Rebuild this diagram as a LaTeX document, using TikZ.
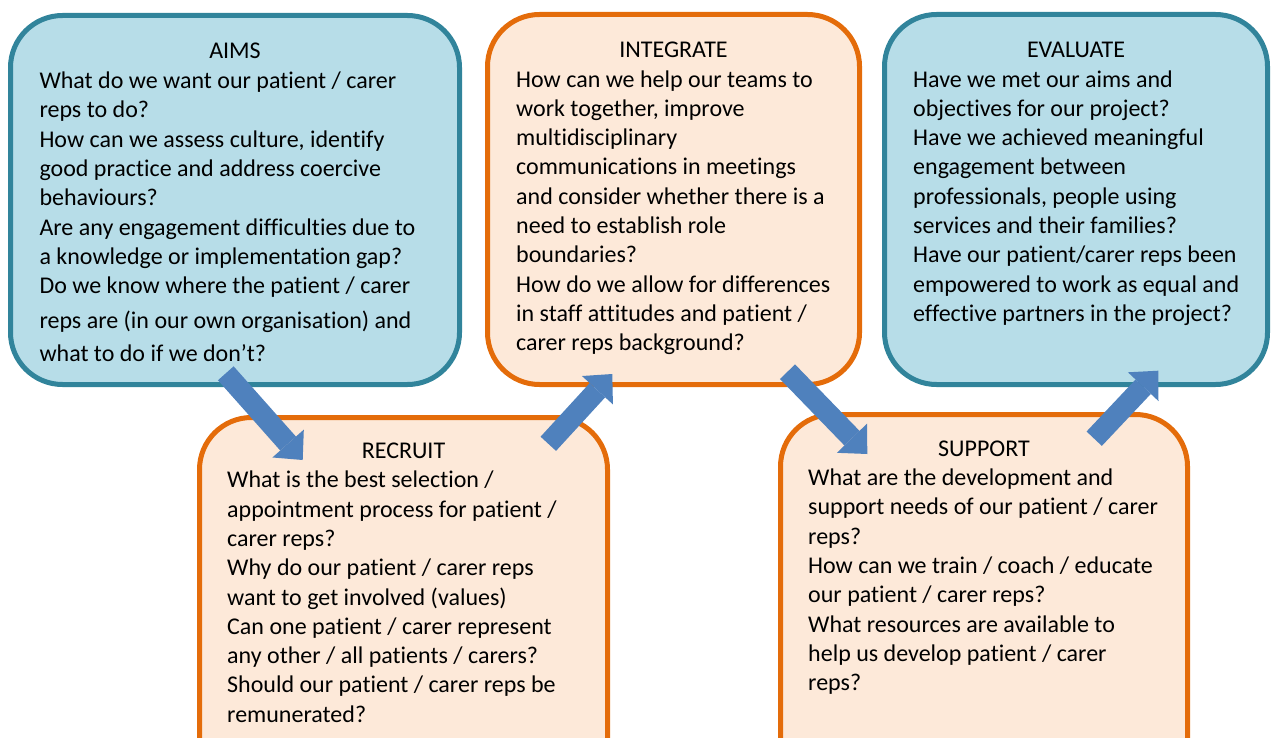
\documentclass[tikz,border=0pt]{standalone}
\usepackage{fontspec}
\setmainfont{Carlito}[Ligatures=NoCommon]
\usetikzlibrary{positioning,arrows.meta}
\definecolor{aimfill}{HTML}{B7DDE8}
\definecolor{aimedge}{HTML}{31849B}
\definecolor{stagefill}{HTML}{FDE9D9}
\definecolor{stageedge}{HTML}{E46C0A}
\definecolor{flowblue}{HTML}{4F81BD}

\begin{document}
\begin{tikzpicture}[x=1pt, y=-1pt,
    bluebox/.style = {draw=aimedge, fill=aimfill, line width=5pt, rounded corners=52pt},
    orangebox/.style = {draw=stageedge, fill=stagefill, line width=5pt, rounded corners=52pt},
    head/.style = {anchor=base, inner sep=0pt, font=\fontsize{24}{29.3}\selectfont},
    qs/.style = {anchor=north west, inner sep=0pt, align=left, font=\fontsize{24}{29.3}\selectfont},
    flow/.style = {draw=flowblue, line width=21pt, -{Triangle[width=42pt, length=22pt, line width=0pt]}}]
    \useasboundingbox (0,0) rectangle (1271,738);
    \clip (0,0) rectangle (1271,738);

    % boxes
    \node[bluebox, minimum width=449pt, minimum height=369pt] (aims) at (235,200) {};
    \node[orangebox, minimum width=372pt, minimum height=370pt] (integrate) at (673.5,199.5) {};
    \node[bluebox, minimum width=383pt, minimum height=370pt] (evaluate) at (1076,199.5) {};
    \node[orangebox, minimum width=408pt, minimum height=380pt] (recruit) at (403.5,607.5) {};
    \node[orangebox, minimum width=407pt, minimum height=383pt] (support) at (984,606) {};

    % titles
    \node[head] (aimsT) at ([yshift=-46pt]aims.north) {AIMS};
    \node[head] (integrateT) at ([yshift=-45.5pt]integrate.north) {INTEGRATE};
    \node[head] (evaluateT) at ([yshift=-45.5pt]evaluate.north) {EVALUATE};
    \node[head] (recruitT) at ([yshift=-43.3pt]recruit.north) {RECRUIT};
    \node[head] (supportT) at ([yshift=-44pt]support.north) {SUPPORT};

    % questions
    \node[qs] (aimsQ) at ([xshift=31.3pt, yshift=-8.8pt]aims.west |- aimsT.base) {\strut What do we want our patient / carer\\
        reps to do?\\
        How can we assess culture, identify\\
        good practice and address coercive\\
        behaviours?\\
        Are any engagement difficulties due to\\
        a knowledge or implementation gap?\\
        Do we know where the patient / carer\\[5.7pt]
        reps are (in our own organisation) and\\[3.4pt]
        what to do if we don’t?};
    \node[qs] (integrateQ) at ([xshift=31pt, yshift=-8.8pt]integrate.west |- integrateT.base) {\strut How can we help our teams to\\
        work together, improve\\
        multidisciplinary\\
        communications in meetings\\
        and consider whether there is a\\
        need to establish role\\
        boundaries?\\
        How do we allow for differences\\
        in staff attitudes and patient /\\
        carer reps background?};
    \node[qs] (evaluateQ) at ([xshift=31pt, yshift=-8.8pt]evaluate.west |- evaluateT.base) {\strut Have we met our aims and\\
        objectives for our project?\\
        Have we achieved meaningful\\
        engagement between\\
        professionals, people using\\
        services and their families?\\
        Have our patient/carer reps been\\
        empowered to work as equal and\\
        effective partners in the project?};
    \node[qs] (recruitQ) at ([xshift=30pt, yshift=-8.8pt]recruit.west |- recruitT.base) {\strut What is the best selection /\\
        appointment process for patient /\\
        carer reps?\\
        Why do our patient / carer reps\\
        want to get involved (values)\\
        Can one patient / carer represent\\
        any other / all patients / carers?\\
        Should our patient / carer reps be\\
        remunerated?};
    \node[qs] (supportQ) at ([xshift=30pt, yshift=-8.8pt]support.west |- supportT.base) {\strut What are the development and\\
        support needs of our patient / carer\\
        reps?\\
        How can we train / coach / educate\\
        our patient / carer reps?\\
        What resources are available to\\
        help us develop patient / carer\\
        reps?};

    % arrows
    \coordinate (aimsOut) at (225.8,373.3);
    \coordinate (recruitIn) at (302.7,460);
    \coordinate (recruitOut) at (548.3,443.8);
    \coordinate (integrateIn) at (612.3,374);
    \coordinate (integrateOut) at (787.5,371.7);
    \coordinate (supportIn) at (867.3,454);
    \coordinate (supportOut) at (1094.2,438.7);
    \coordinate (evaluateIn) at (1158.3,370.7);
    \draw[flow] (aimsOut) -- (recruitIn);
    \draw[flow] (recruitOut) -- (integrateIn);
    \draw[flow] (integrateOut) -- (supportIn);
    \draw[flow] (supportOut) -- (evaluateIn);
\end{tikzpicture}
\end{document}
